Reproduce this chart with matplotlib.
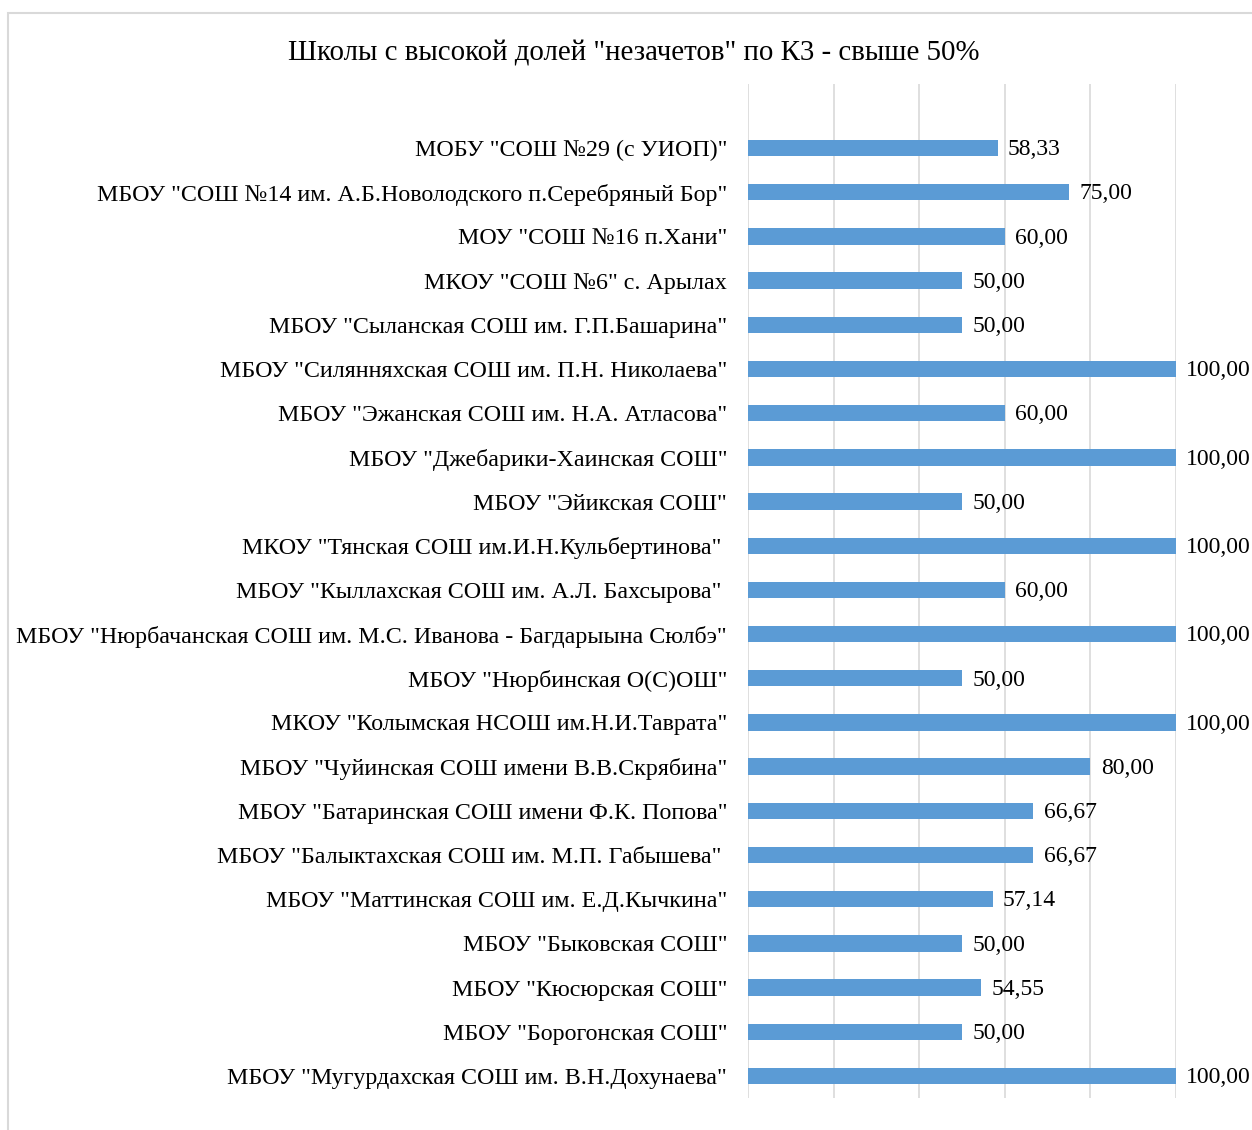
import numpy as np
import matplotlib.pyplot as plt
from matplotlib.patches import Rectangle

plt.rcParams['font.family'] = ['Liberation Serif', 'DejaVu Serif']

# данные с диаграммы (сверху вниз)
schools = [
    'МОБУ "СОШ №29 (с УИОП)"',
    'МБОУ "СОШ №14 им. А.Б.Новолодского п.Серебряный Бор"',
    'МОУ "СОШ №16 п.Хани"',
    'МКОУ "СОШ №6" с. Арылах',
    'МБОУ "Сыланская СОШ им. Г.П.Башарина"',
    'МБОУ "Силянняхская СОШ им. П.Н. Николаева"',
    'МБОУ "Эжанская СОШ им. Н.А. Атласова"',
    'МБОУ "Джебарики-Хаинская СОШ"',
    'МБОУ "Эйикская СОШ"',
    'МКОУ "Тянская СОШ им.И.Н.Кульбертинова" ',
    'МБОУ "Кыллахская СОШ им. А.Л. Бахсырова" ',
    'МБОУ "Нюрбачанская СОШ им. М.С. Иванова - Багдарыына Сюлбэ"',
    'МБОУ "Нюрбинская О(С)ОШ"',
    'МКОУ "Колымская НСОШ им.Н.И.Таврата"',
    'МБОУ "Чуйинская СОШ имени В.В.Скрябина"',
    'МБОУ "Батаринская СОШ имени Ф.К. Попова"',
    'МБОУ "Балыктахская СОШ им. М.П. Габышева" ',
    'МБОУ "Маттинская СОШ им. Е.Д.Кычкина"',
    'МБОУ "Быковская СОШ"',
    'МБОУ "Кюсюрская СОШ"',
    'МБОУ "Борогонская СОШ"',
    'МБОУ "Мугурдахская СОШ им. В.Н.Дохунаева"',
]
values = [58.33, 75.00, 60.00, 50.00, 50.00, 100.00, 60.00, 100.00, 50.00, 100.00, 60.00,
          100.00, 50.00, 100.00, 80.00, 66.67, 66.67, 57.14, 50.00, 54.55, 50.00, 100.00]
title = 'Школы с высокой долей "незачетов" по К3 - свыше 50%'

fig = plt.figure(figsize=(12.52, 11.30), dpi=100)
ax = fig.add_axes([0.5974, 0.0283, 0.3419, 0.8974])

y = np.arange(len(schools))
ax.barh(y, values, height=0.37, color='#5B9BD5', zorder=3)
for yi, v in zip(y, values):
    ax.text(v + 2.4, yi + 0.04, f'{v:.2f}'.replace('.', ','), va='center', ha='left',
            fontsize=17, color='black')

ax.set_xlim(0, 100)
ax.set_ylim(len(schools) - 0.5, -1.45)
ax.set_xticks(np.arange(0, 101, 20))
ax.set_xticklabels([])
ax.set_yticks(y)
ax.set_yticklabels(schools, fontsize=17.3)
ax.tick_params(axis='both', length=0)
ax.tick_params(axis='y', pad=15)
ax.grid(axis='x', color='#D9D9D9', linewidth=1.2, zorder=0)
for s in ax.spines.values():
    s.set_visible(False)

fig.text(0.506, 0.953, title, ha='center', va='center', fontsize=20.8)

# рамка области диаграммы
fig.patches.append(Rectangle((8 / 1252, -0.1), 1.2, 1 - 13 / 1130 + 0.1,
                             transform=fig.transFigure, fill=False,
                             edgecolor='#D9D9D9', linewidth=1.5))

plt.savefig('out.png', dpi=100)
